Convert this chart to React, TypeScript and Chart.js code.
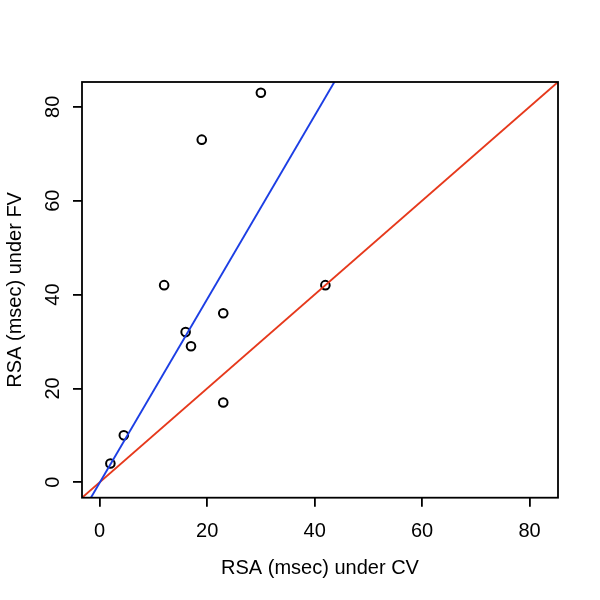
import React, { useEffect, useRef } from "react";
import { Chart, registerables } from "chart.js";

Chart.register(...registerables);

// Data
const cvValues = [2, 4.5, 12, 16, 17, 19, 23, 23, 30, 42];
const fvValues = [4, 10, 42, 32, 29, 73, 36, 17, 83, 42];
const tickValues = [0, 20, 40, 60, 80];
const axisMin = -3.28;
const axisMax = 85.28;
// fitted line (blue): FV = intercept + slope * CV
const fitIntercept = -0.1;
const fitSlope = 1.955;
// identity line (red): FV = CV
const identitySlope = 1;
const identityIntercept = 0;

const xTitle = "RSA (msec) under CV";
const yTitle = "RSA (msec) under FV";

const FONT = "'Liberation Sans', Arial, Helvetica, sans-serif";

export default function App() {
  const ref = useRef<HTMLCanvasElement | null>(null);

  useEffect(() => {
    document.body.style.margin = "0";
    const canvas = ref.current;
    if (!canvas) return;

    const lineData = (a: number, b: number) => [
      { x: axisMin, y: a + b * axisMin },
      { x: axisMax, y: a + b * axisMax },
    ];

    const boxPlugin = {
      id: "box",
      afterDatasetsDraw(chart: any) {
        const { ctx, chartArea } = chart;
        ctx.save();
        ctx.strokeStyle = "#000";
        ctx.lineWidth = 1.8;
        ctx.strokeRect(
          chartArea.left,
          chartArea.top,
          chartArea.right - chartArea.left,
          chartArea.bottom - chartArea.top
        );
        ctx.restore();
      },
    };

    const tickFont = { family: FONT, size: 20 };

    const chart = new Chart(canvas, {
      type: "scatter",
      data: {
        datasets: [
          {
            label: "points",
            data: cvValues.map((x, i) => ({ x, y: fvValues[i] })),
            pointRadius: 4.3,
            pointBorderWidth: 2,
            pointBorderColor: "#000",
            pointBackgroundColor: "rgba(0,0,0,0)",
            showLine: false,
            order: 3,
          },
          {
            label: "fit",
            type: "line",
            data: lineData(fitIntercept, fitSlope),
            borderColor: "#1c3ee4",
            borderWidth: 1.9,
            pointRadius: 0,
            clip: 0,
            order: 1,
          } as any,
          {
            label: "identity",
            type: "line",
            data: lineData(identityIntercept, identitySlope),
            borderColor: "#e6391c",
            borderWidth: 1.9,
            pointRadius: 0,
            clip: 0,
            order: 2,
          } as any,
        ],
      },
      options: {
        responsive: false,
        animation: false,
        layout: { padding: { left: 0, top: 82, right: 42, bottom: 0 } },
        plugins: {
          legend: { display: false },
          tooltip: { enabled: false },
        },
        scales: {
          x: {
            type: "linear",
            min: axisMin,
            max: axisMax,
            afterFit: (s: any) => {
              s.height = 102.3;
            },
            afterBuildTicks: (s: any) => {
              s.ticks = tickValues.map((v) => ({ value: v }));
            },
            border: { display: false },
            grid: {
              drawOnChartArea: false,
              drawTicks: true,
              tickLength: 9,
              color: "#000",
              lineWidth: 1.8,
            },
            ticks: {
              color: "#000",
              font: tickFont,
              padding: 13,
              maxRotation: 0,
            },
            title: {
              display: true,
              text: xTitle,
              color: "#000",
              font: { family: FONT, size: 20 },
              padding: { top: 0, bottom: 20 },
            },
          },
          y: {
            type: "linear",
            min: axisMin,
            max: axisMax,
            afterFit: (s: any) => {
              s.width = 82;
            },
            afterBuildTicks: (s: any) => {
              s.ticks = tickValues.map((v) => ({ value: v }));
            },
            border: { display: false },
            grid: {
              drawOnChartArea: false,
              drawTicks: true,
              tickLength: 9,
              color: "#000",
              lineWidth: 1.8,
            },
            ticks: {
              color: "#000",
              font: tickFont,
              padding: 8,
              minRotation: 90,
              maxRotation: 90,
              crossAlign: "center",
            },
            title: {
              display: true,
              text: yTitle,
              color: "#000",
              font: { family: FONT, size: 20 },
              padding: { top: 3, bottom: 0 },
            },
          },
        },
      } as any,
      plugins: [boxPlugin],
    });

    return () => chart.destroy();
  }, []);

  return (
    <div style={{ width: 600, height: 600, background: "#fff" }}>
      <canvas ref={ref} width={600} height={600} style={{ display: "block" }} />
    </div>
  );
}
